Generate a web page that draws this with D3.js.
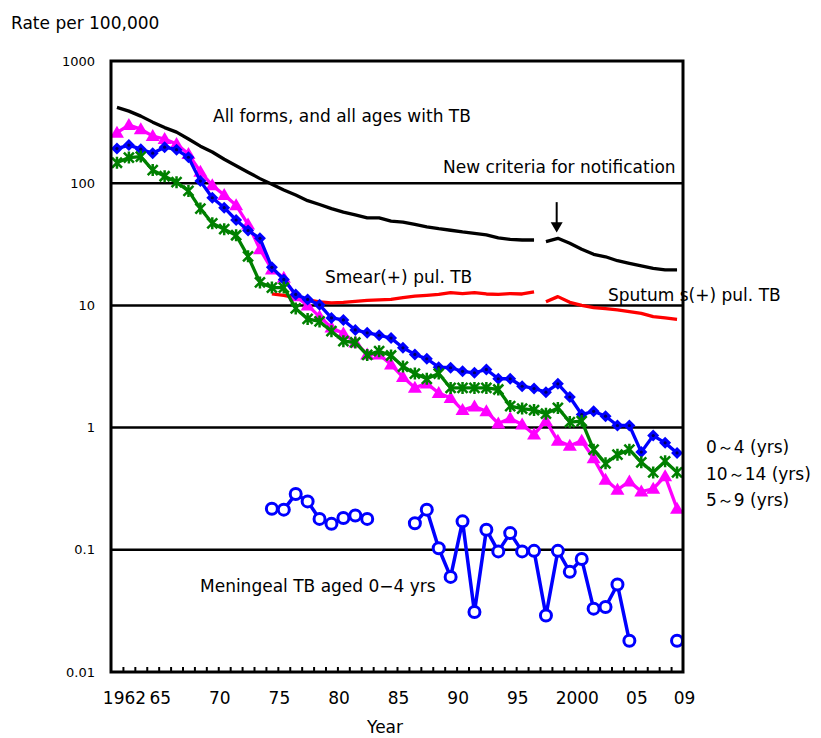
<!DOCTYPE html>
<html>
  <head>
    <meta charset="utf-8">
    <title></title>
    <script type="text/javascript" src="https://d3js.org/d3.v7.min.js"></script>
    <style media="screen">
      body { margin: 0; background: #fff; }
      svg text { font-family: "DejaVu Sans", sans-serif; fill: #000; }
    </style>
  </head>
  <body>
    <div class="vis"></div>
    <script type="text/javascript">
      // all forms, all ages (old criteria 1962-1997, new criteria 1998-2009)
      var allForms = [417, 389, 354, 316, 285, 262, 230, 201, 180, 157, 139, 123, 109, 98, 88, 80, 72, 67,
        62, 58, 55, 52, 52, 49, 48, 46, 44, 42.4, 41.2, 39.9, 38.9, 37.8, 35.7, 34.7, 34.3, 34.3];
      var allFormsNew = [33.3, 35.4, 32.2, 28.8, 26.2, 25.0, 23.2, 22.1, 21.1, 20.1, 19.5, 19.5];
      // smear(+) 1975-1997, sputum s(+) 1998-2009
      var smear = [12.4, 12.1, 11.6, 11.1, 10.7, 10.5, 10.6, 10.8, 11.0, 11.1, 11.2, 11.6, 11.9, 12.1,
        12.3, 12.7, 12.5, 12.7, 12.4, 12.3, 12.5, 12.4, 12.9];
      var sputum = [10.7, 11.8, 10.6, 10.0, 9.6, 9.4, 9.2, 8.9, 8.6, 8.1, 7.9, 7.7];
      // children by age group, 1962-2009
      var age0to4 = [192, 205, 190, 176, 197, 188, 163, 104, 76, 63, 50, 41, 35.4, 20.5, 16.3,
        12.3, 11.2, 10.1, 7.9, 7.6, 6.3, 5.96, 5.7, 5.4, 4.5, 3.97, 3.66, 3.12, 3.09, 2.89, 2.81, 2.99,
        2.51, 2.51, 2.18, 2.09, 1.95, 2.28, 1.78, 1.28, 1.36, 1.24, 1.04, 1.04, 0.63, 0.86, 0.75, 0.62];
      var age5to9 = [259, 299, 277, 243, 230, 209, 173, 124, 96, 80, 66, 46, 28.8, 19.7, 16.8,
        11.9, 10.0, 8.1, 6.6, 5.9, 4.97, 3.97, 3.97, 3.28, 2.59, 2.12, 2.30, 1.92, 1.75, 1.39, 1.49, 1.36,
        1.08, 1.19, 1.06, 0.88, 1.13, 0.78, 0.71, 0.78, 0.56, 0.375, 0.31, 0.363, 0.30, 0.316, 0.40, 0.217];
      var age10to14 = [147, 162, 165, 128, 114, 102, 86.5, 62, 47, 42, 37.5, 25.2, 15.4, 14.0, 14.0,
        9.45, 7.75, 7.39, 6.15, 5.10, 4.97, 3.93, 4.22, 3.89, 3.16, 2.77, 2.51, 2.77, 2.11, 2.11, 2.11, 2.11,
        2.05, 1.50, 1.43, 1.39, 1.30, 1.45, 1.11, 1.13, 0.66, 0.51, 0.60, 0.66, 0.52, 0.43, 0.53, 0.43];
      // meningeal TB aged 0-4, 1975-2009 (null = no value)
      var meningeal = [0.217, 0.213, 0.286, 0.249, 0.179, 0.163, 0.182, 0.191, 0.179,
        null, null, null,
        0.165, 0.213, 0.103, 0.060, 0.171, 0.031, 0.146, 0.097, 0.137, 0.097, 0.098, 0.029, 0.098,
        0.066, 0.084, 0.033, 0.034, 0.052, 0.018,
        null, null, null, 0.018];

      var yTicks = [0.01, 0.1, 1, 10, 100, 1000];
      var yTickLabels = ["0.01", "0.1", "1", "10", "100", "1000"];
      var xLabelYears = [1962, 1965, 1970, 1975, 1980, 1985, 1990, 1995, 2000, 2005, 2009];
      var xLabels = ["1962", "65", "70", "75", "80", "85", "90", "95", "2000", "05", "09"];

      var w = 821;
      var h = 738;
      var plotL = 111, plotR = 683, plotT = 61, plotB = 672;

      var toPoints = function(start, values) {
        return values.map(function(v, i) { return {year: start + i, value: v}; });
      };

      var xscale = d3.scaleLinear().domain([1961.5, 2009.5]).range([plotL, plotR]);
      var yscale = d3.scaleLog().domain([0.01, 1000]).range([plotB, plotT]);

      var line = d3.line()
        .defined(function(d) { return d.value != null; })
        .x(function(d) { return xscale(d.year); })
        .y(function(d) { return yscale(d.value); });

      var svg = d3.select('.vis')
        .append('svg')
        .attr('width', w)
        .attr('height', h);

      // horizontal gridlines
      svg.selectAll('line.grid')
        .data([0.1, 1, 10, 100])
        .enter()
        .append('line')
        .attr('class', 'grid')
        .attr('x1', plotL).attr('x2', plotR)
        .attr('y1', function(d) { return yscale(d); })
        .attr('y2', function(d) { return yscale(d); })
        .attr('stroke', '#000')
        .attr('stroke-width', 2.5);

      // annotation texts
      var notes = [
        {t: "All forms, and all ages with TB", x: 213, y: 122},
        {t: "New criteria for notification", x: 443, y: 173},
        {t: "Smear(+) pul. TB", x: 325, y: 283},
        {t: "Sputum s(+) pul. TB", x: 608, y: 301},
        {t: "Meningeal TB aged 0\u22124 yrs", x: 200, y: 592},
        {t: "0\uFF5E4 (yrs)", x: 706, y: 453},
        {t: "10\uFF5E14 (yrs)", x: 706, y: 480},
        {t: "5\uFF5E9 (yrs)", x: 706, y: 506}
      ];
      svg.selectAll('text.note')
        .data(notes)
        .enter()
        .append('text')
        .attr('class', 'note')
        .attr('x', function(d) { return d.x; })
        .attr('y', function(d) { return d.y; })
        .style('font-size', '17px')
        .text(function(d) { return d.t; });

      // arrow marking the change of notification criteria
      var ax = xscale(1998.9);
      svg.append('line')
        .attr('x1', ax).attr('x2', ax)
        .attr('y1', yscale(70)).attr('y2', yscale(46))
        .attr('stroke', '#000').attr('stroke-width', 2);
      svg.append('path')
        .attr('d', 'M' + (ax - 6) + ',' + yscale(48) + 'L' + (ax + 6) + ',' + yscale(48) +
          'L' + ax + ',' + yscale(39.5) + 'Z')
        .attr('fill', '#000');

      var drawLine = function(data, color, width) {
        svg.append('path')
          .datum(data)
          .attr('d', line)
          .attr('fill', 'none')
          .attr('stroke', color)
          .attr('stroke-width', width)
          .attr('stroke-linejoin', 'round');
      };

      drawLine(toPoints(1962, allForms), '#000', 3.3);
      drawLine(toPoints(1998, allFormsNew), '#000', 3.3);
      drawLine(toPoints(1975, smear), '#ff0000', 3.3);
      drawLine(toPoints(1998, sputum), '#ff0000', 3.3);

      // 5-9 yrs : magenta triangles
      var pink = toPoints(1962, age5to9);
      drawLine(pink, '#ff00ff', 3.3);
      svg.selectAll('path.tri')
        .data(pink)
        .enter()
        .append('path')
        .attr('class', 'tri')
        .attr('d', 'M0,-7L7,5L-7,5Z')
        .attr('transform', function(d) { return 'translate(' + xscale(d.year) + ',' + yscale(d.value) + ')'; })
        .attr('fill', '#ff00ff');

      // 0-4 yrs : blue diamonds
      var blue = toPoints(1962, age0to4);
      drawLine(blue, '#0000ff', 3.3);
      var dia = svg.selectAll('g.dia')
        .data(blue)
        .enter()
        .append('g')
        .attr('class', 'dia')
        .attr('transform', function(d) { return 'translate(' + xscale(d.year) + ',' + yscale(d.value) + ')'; });
      dia.append('path')
        .attr('d', 'M0,-6L6,0L0,6L-6,0Z')
        .attr('fill', '#0000ff');
      dia.append('circle')
        .attr('r', 1.6)
        .attr('fill', '#000060');

      // 10-14 yrs : green stars
      var green = toPoints(1962, age10to14);
      drawLine(green, '#008000', 3.3);
      svg.selectAll('path.star')
        .data(green)
        .enter()
        .append('path')
        .attr('class', 'star')
        .attr('d', 'M-5,-5L5,5M-5,5L5,-5M0,-6L0,6')
        .attr('transform', function(d) { return 'translate(' + xscale(d.year) + ',' + yscale(d.value) + ')'; })
        .attr('stroke', '#008000')
        .attr('stroke-width', 2.5)
        .attr('fill', 'none');

      // meningeal TB : blue open circles
      var men = toPoints(1975, meningeal);
      drawLine(men, '#0000ff', 3.5);
      svg.selectAll('circle.men')
        .data(men.filter(function(d) { return d.value != null; }))
        .enter()
        .append('circle')
        .attr('class', 'men')
        .attr('cx', function(d) { return xscale(d.year); })
        .attr('cy', function(d) { return yscale(d.value); })
        .attr('r', 5.5)
        .attr('fill', '#fff')
        .attr('stroke', '#0000ff')
        .attr('stroke-width', 3);

      // plot frame
      svg.append('rect')
        .attr('x', plotL).attr('y', plotT)
        .attr('width', plotR - plotL).attr('height', plotB - plotT)
        .attr('fill', 'none')
        .attr('stroke', '#000')
        .attr('stroke-width', 3);

      // year tick marks between categories
      var bounds = d3.range(1962, 2009).map(function(y) { return y + 0.5; });
      var tickAxis = d3.axisBottom(xscale)
        .tickValues(bounds)
        .tickSize(-5)
        .tickFormat('');
      svg.append('g')
        .attr('transform', 'translate(0,' + plotB + ')')
        .call(tickAxis)
        .call(function(g) { g.select('.domain').remove(); })
        .selectAll('line')
        .attr('stroke', '#000')
        .attr('stroke-width', 2);

      var xAxis = d3.axisBottom(xscale)
        .tickValues(xLabelYears)
        .tickSize(0)
        .tickPadding(20)
        .tickFormat(function(d, i) { return xLabels[i]; });
      var gx = svg.append('g')
        .attr('transform', 'translate(0,' + plotB + ')')
        .call(xAxis);
      gx.select('.domain').remove();
      gx.selectAll('text')
        .attr('dx', 7)
        .style('font-size', '17px')
        .style('font-family', '"DejaVu Sans", sans-serif');

      var yAxis = d3.axisLeft(yscale)
        .tickValues(yTicks)
        .tickSize(0)
        .tickPadding(16)
        .tickFormat(function(d, i) { return yTickLabels[i]; });
      var gy = svg.append('g')
        .attr('transform', 'translate(' + plotL + ',0)')
        .call(yAxis);
      gy.select('.domain').remove();
      gy.selectAll('text')
        .style('font-size', '13px')
        .style('font-family', '"DejaVu Sans", sans-serif');

      svg.append('text')
        .attr('x', 11).attr('y', 29)
        .style('font-size', '17px')
        .text('Rate per 100,000');
      svg.append('text')
        .attr('x', 385).attr('y', 733)
        .attr('text-anchor', 'middle')
        .style('font-size', '17px')
        .text('Year');
    </script>
  </body>
</html>
